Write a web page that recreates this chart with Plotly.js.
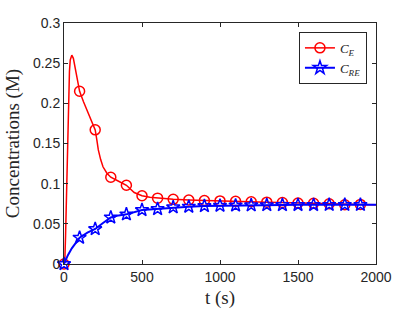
<!DOCTYPE html>
<html>
<head>
<meta charset="utf-8">
<script src="https://cdn.plot.ly/plotly-3.0.1.min.js"></script>
<style>
  html, body { margin: 0; padding: 0; background: #ffffff; }
  #chart { width: 415px; height: 312px; }
</style>
</head>
<body>
<div id="chart"></div>
<script>
// ---- data ----
var tE = [0, 5, 10, 15, 20, 25, 30, 35, 40, 50, 60, 70, 80, 100, 125, 150, 175, 200, 210, 220, 235, 250, 275, 300, 350, 400, 450, 500, 550, 600, 700, 800, 900, 1000, 1100, 1200, 1300, 1400, 1500, 1600, 1700, 1800, 1900, 2000];
var cE = [0, 0.003, 0.035, 0.08, 0.125, 0.17, 0.21, 0.24, 0.254, 0.26, 0.256, 0.246, 0.235, 0.215, 0.202, 0.19, 0.179, 0.167, 0.155, 0.142, 0.13, 0.121, 0.113, 0.108, 0.103, 0.098, 0.089, 0.085, 0.083, 0.082, 0.0805, 0.0797, 0.079, 0.0785, 0.078, 0.0775, 0.077, 0.0765, 0.076, 0.0755, 0.075, 0.0738, 0.0742, 0.0738];

var tRE = [0, 25, 50, 75, 100, 150, 200, 250, 300, 350, 400, 500, 600, 700, 800, 900, 1000, 1100, 1200, 1300, 1400, 1500, 1600, 1700, 1800, 1900, 2000];
var cRE = [0, 0.011, 0.0195, 0.027, 0.0328, 0.039, 0.0436, 0.051, 0.058, 0.0605, 0.0618, 0.0672, 0.0685, 0.0706, 0.0714, 0.0722, 0.0726, 0.073, 0.0732, 0.0734, 0.0735, 0.0736, 0.0736, 0.0737, 0.0737, 0.0737, 0.0737];

// times at which markers are drawn
var markerTimes = [0, 100, 200, 300, 400, 500, 600, 700, 800, 900, 1000, 1100, 1200, 1300, 1400, 1500, 1600, 1700, 1800, 1900];

var xTicks = [0, 500, 1000, 1500, 2000];
var xTickText = ['0', '500', '1000', '1500', '2000'];
var yTicks = [0, 0.05, 0.1, 0.15, 0.2, 0.25, 0.3];
var yTickText = ['0', '0.05', '0.1', '0.15', '0.2', '0.25', '0.3'];

var seriesNames = ['<i>C</i><sub><i>E</i></sub>', '<i>C</i><sub><i>RE</i></sub>'];

function markerColors(times, col) {
  return times.map(function (t) { return markerTimes.indexOf(t) >= 0 ? col : 'rgba(0,0,0,0)'; });
}

var axisCol = '#262626';

var traces = [
  {
    x: tE, y: cE, name: seriesNames[0], type: 'scatter', mode: 'lines+markers',
    cliponaxis: false,
    line: { color: '#ff0000', width: 1.5 },
    marker: { symbol: 'circle-open', size: 10, color: markerColors(tE, '#ff0000'), line: { width: 1.5 } }
  },
  {
    x: tRE, y: cRE, name: seriesNames[1], type: 'scatter', mode: 'lines+markers',
    cliponaxis: false,
    line: { color: '#0000ff', width: 2 },
    marker: { symbol: 'star-open', size: 10, color: markerColors(tRE, '#0000ff'), line: { width: 1.5 } }
  }
];

var layout = {
  width: 415, height: 312,
  margin: { l: 64, r: 39, t: 23, b: 48 },
  paper_bgcolor: '#ffffff', plot_bgcolor: '#ffffff',
  showlegend: true,
  font: { family: 'Liberation Sans, Arial, sans-serif', size: 14, color: axisCol },
  xaxis: {
    range: [0, 2000], tickmode: 'array', tickvals: xTicks, ticktext: xTickText,
    ticks: 'inside', ticklen: 4, tickwidth: 1, tickcolor: axisCol,
    showline: true, linecolor: axisCol, linewidth: 1, mirror: 'ticks',
    showgrid: false, zeroline: false,
    tickfont: { family: 'Liberation Sans, Arial, sans-serif', size: 14, color: axisCol },
    title: { text: 't (s)', font: { family: 'Liberation Serif, serif', size: 19, color: axisCol }, standoff: 6 }
  },
  yaxis: {
    range: [0, 0.3], tickmode: 'array', tickvals: yTicks, ticktext: yTickText,
    ticks: 'inside', ticklen: 4, tickwidth: 1, tickcolor: axisCol,
    showline: true, linecolor: axisCol, linewidth: 1, mirror: 'ticks',
    showgrid: false, zeroline: false,
    tickfont: { family: 'Liberation Sans, Arial, sans-serif', size: 14, color: axisCol },
    title: { text: 'Concentrations (M)', font: { family: 'Liberation Serif, serif', size: 19, color: axisCol }, standoff: 8 }
  },
  legend: {
    x: 0.971, y: 0.963, xanchor: 'right', yanchor: 'top',
    bgcolor: '#ffffff', bordercolor: axisCol, borderwidth: 1,
    font: { family: 'Liberation Serif, serif', size: 13, color: axisCol },
    tracegroupgap: 0
  }
};

Plotly.newPlot('chart', traces, layout, { staticPlot: true, displayModeBar: false });
</script>
</body>
</html>
